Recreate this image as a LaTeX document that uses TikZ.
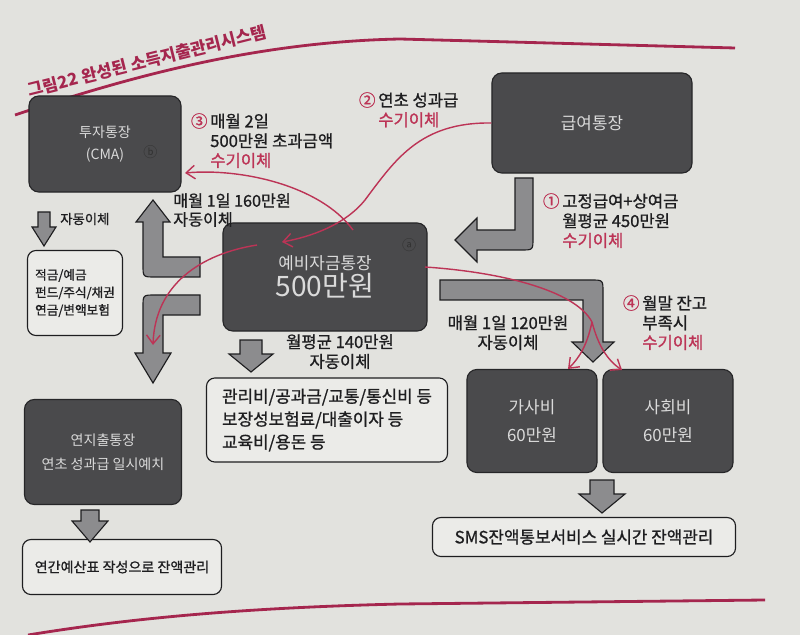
\documentclass[tikz,border=0pt]{standalone}
\usepackage{fontspec}
\setmainfont{Noto Sans CJK KR}
\newfontfamily\labelfont[FakeBold=1]{Noto Sans CJK KR}
\usetikzlibrary{positioning, arrows.meta}

\definecolor{pagebg}{RGB}{226,226,222}
\definecolor{boxfill}{RGB}{74,74,76}
\definecolor{boxedge}{RGB}{38,38,40}
\definecolor{boxtext}{RGB}{218,218,218}
\definecolor{arrgray}{RGB}{140,140,142}
\definecolor{ink}{RGB}{30,30,32}
\definecolor{manred}{RGB}{188,52,86}
\definecolor{titlered}{RGB}{165,38,78}

\tikzset{
  acct/.style={draw=boxedge, line width=0.8pt, fill=boxfill, rounded corners=7pt,
    text=boxtext, align=center, font=\fontsize{12}{15}\selectfont},
  memo/.style={draw=ink, line width=0.8pt, fill=pagebg!70!white, rounded corners=6pt,
    text=ink, align=left},
  lbl/.style={inner sep=0pt, text=ink, align=left, font=\labelfont\fontsize{11.8}{14}\selectfont},
  blockarr/.style={fill=arrgray, draw=ink, line width=0.8pt, line join=miter},
  manual/.style={draw=manred, line width=1pt, -{Straight Barb[length=2.2mm, width=3.4mm]}},
  pageline/.style={draw=titlered, line width=2pt},
  accmark/.style={text=black!80, font=\fontsize{10}{10}\selectfont, inner sep=1pt},
}

\newcommand{\sugi}{\textcolor{manred}{수기이체}}
\newcommand{\rednum}[1]{\llap{\textcolor{manred}{#1}\,}}

\begin{document}
\begin{tikzpicture}[x=0.025cm, y=-0.025cm]
\fill[pagebg] (0,0) rectangle (800,635);
\useasboundingbox (0,0) rectangle (800,635);

% title and page rules
\node[text=titlered, font=\bfseries\fontsize{12}{12}\selectfont, rotate=14] (title) at (147,61) {그림22 완성된 소득지출관리시스템};
\draw[pageline] (15,115) .. controls (120,80) and (250,42) .. (400,39) -- (735,48);
\draw[pageline] (28,635) .. controls (120,620) and (230,608) .. (400,604) -- (765,600);

% accounts
\node[acct, minimum width=3.8cm, minimum height=2.4cm, font=\fontsize{10}{16}\selectfont] (invest) at (105,144) {투자통장\\(CMA)};
\node[acct, minimum width=5cm, minimum height=2.5cm] (salary) at (592,123) {급여통장};
\node[acct, minimum width=5.1cm, minimum height=2.7cm] (reserve) at (325,277) {예비자금통장\\[1pt]{\fontsize{20}{22}\selectfont 500만원}};
\node[acct, minimum width=3.25cm, minimum height=2.575cm, font=\fontsize{12}{20}\selectfont] (living) at (532,421) {가사비\\60만원};
\node[acct, minimum width=3.25cm, minimum height=2.575cm, font=\fontsize{12}{20}\selectfont] (social) at (668,421) {사회비\\60만원};
\node[acct, minimum width=3.925cm, minimum height=2.625cm, font=\fontsize{10}{17}\selectfont] (annual) at (103,452) {연지출통장\\연초 성과급 일시예치};

\node[accmark, below left=10pt and 7pt of reserve.north east] (marka) {ⓐ};
\node[accmark, left=16pt of invest.east, yshift=-6pt] (markb) {ⓑ};

% where the money goes
\node[memo, minimum width=2.375cm, minimum height=2.125cm, inner sep=3pt, font=\labelfont\fontsize{9}{12.5}\selectfont] (savings) at (75,293) {적금/예금\\펀드/주식/채권\\연금/변액보험};
\node[memo, minimum width=6.025cm, minimum height=2.1cm, font=\labelfont\fontsize{12}{16.3}\selectfont] (fixed) at (327,420) {관리비/공과금/교통/통신비 등\\보장성보험료/대출이자 등\\교육비/용돈 등};
\node[memo, minimum width=4.975cm, minimum height=1.375cm, font=\labelfont\fontsize{10}{12}\selectfont] (budget) at (122,567) {연간예산표 작성으로 잔액관리};
\node[memo, minimum width=7.575cm, minimum height=0.975cm, font=\labelfont\fontsize{12}{14}\selectfont] (sms) at (584,537) {SMS잔액통보서비스 실시간 잔액관리};

% labels
\node[lbl, anchor=north west] (lab3) at (210,113) {\rednum{③}매월 2일\\500만원 초과금액\\\sugi};
\node[lbl, anchor=north west] (lab2) at (378,92) {\rednum{②}연초 성과급\\\sugi};
\node[lbl, anchor=north west] (lab1) at (562,193) {\rednum{①}고정급여+상여금\\월평균 450만원\\\sugi};
\node[lbl, anchor=north west] (lab4) at (642,295) {\rednum{④}월말 잔고\\부족시\\\sugi};
\node[lbl, anchor=north west, font=\labelfont\fontsize{11.5}{13.4}\selectfont] (lab160) at (173,193) {매월 1일 160만원\\자동이체};
\node[lbl, anchor=north, align=center] (lab140) at (340,334) {월평균 140만원\\자동이체};
\node[lbl, anchor=north, align=center] (lab120) at (508,315) {매월 1일 120만원\\자동이체};
\node[lbl, anchor=west, font=\labelfont\fontsize{9.5}{12}\selectfont] (labauto) at (60,219) {자동이체};

% gray block arrows
\draw[blockarr] (38,212) -- (50,212) -- (50,227) -- (56,227) -- (44,246) -- (32,227) -- (38,227) -- cycle;
\draw[blockarr] (240,340) -- (262,340) -- (262,354) -- (273,354) -- (251,372) -- (229,354) -- (240,354) -- cycle;
\draw[blockarr] (590,480) -- (614,480) -- (614,494) -- (625,494) -- (602,513) -- (579,494) -- (590,494) -- cycle;
\draw[blockarr] (81,510) -- (99,510) -- (99,521) -- (108,521) -- (90,542) -- (72,521) -- (81,521) -- cycle;
\draw[blockarr] (200,257) -- (200,277) -- (155,277) .. controls (143,277) .. (143,265) -- (143,222) -- (136,222) -- (153,200) -- (170,222) -- (163,222) -- (163,257) -- cycle;
\draw[blockarr] (200,295) -- (155,295) .. controls (143,295) .. (143,307) -- (143,353) -- (135,353) -- (153,383) -- (171,353) -- (163,353) -- (163,315) -- (200,315) -- cycle;
\draw[blockarr] (515,178) -- (533,178) -- (533,238) .. controls (533,250) .. (521,250) -- (477,250) -- (477,262) -- (455,240) -- (477,218) -- (477,230) -- (515,230) -- cycle;
\draw[blockarr] (440,280) -- (591,280) .. controls (603,280) .. (603,292) -- (603,342) -- (614,342) -- (593,362) -- (572,342) -- (583,342) -- (583,300) -- (440,300) -- cycle;

% red manual transfers
\coordinate (r1end) at (282,242);
\coordinate (r2start) at (353,230);
\coordinate (r2end) at (185,173);
\coordinate (r3start) at (257,245);
\coordinate (r3end) at (153,345);
\coordinate (r4start) at (425,267);
\coordinate (split) at (592,322);
\coordinate (r4left) at (568,369);
\coordinate (r4right) at (622,370);

\draw[manual] (salary.west) .. controls (420,122) and (395,160) .. (365,200) .. controls (345,225) and (310,237) .. (r1end);
\draw[manual] (r2start) .. controls (320,185) and (240,168) .. (r2end);
\draw[manual] (r3start) .. controls (200,254) and (155,285) .. (r3end);
\draw[draw=manred, line width=1pt] (r4start) .. controls (500,272) and (575,290) .. (split);
\draw[manual] (split) .. controls (587,345) and (580,357) .. (r4left);
\draw[manual] (split) .. controls (598,345) and (607,360) .. (r4right);
\end{tikzpicture}
\end{document}
